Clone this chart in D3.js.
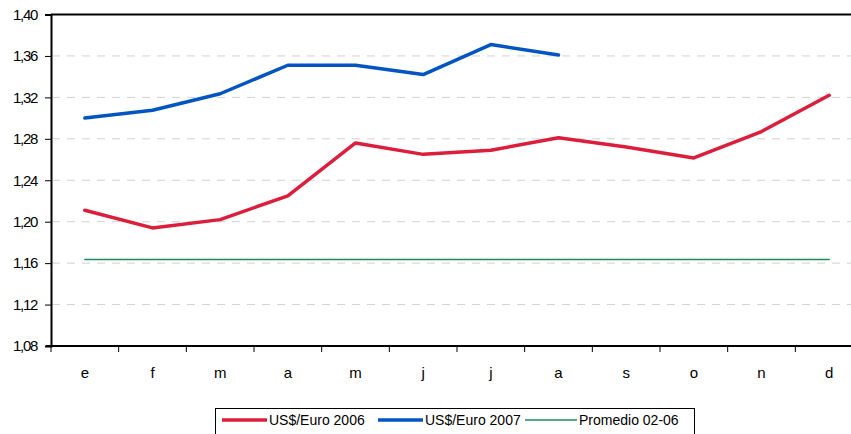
<!DOCTYPE html>
<html>
<head>
<meta charset="utf-8">
<script src="https://cdn.jsdelivr.net/npm/d3@7"></script>
<style>
  body { margin: 0; background: #fff; }
  svg { display: block; font-family: "Liberation Sans", Arial, sans-serif; }
</style>
</head>
<body>
<div id="chart"></div>
<script>
// months (Spanish initials)
const months = ["e", "f", "m", "a", "m", "j", "j", "a", "s", "o", "n", "d"];
const euro2006 = [1.211, 1.194, 1.202, 1.225, 1.276, 1.265, 1.269, 1.281, 1.272, 1.2615, 1.287, 1.322];
const euro2007 = [1.300, 1.3075, 1.3235, 1.351, 1.351, 1.342, 1.371, 1.361];
const promedio = [1.1636, 1.1636, 1.1636, 1.1636, 1.1636, 1.1636, 1.1636, 1.1636, 1.1636, 1.1636, 1.1636, 1.1636];
const yTicks = [1.08, 1.12, 1.16, 1.20, 1.24, 1.28, 1.32, 1.36, 1.40];

const series = [
  {name: "US$/Euro 2006", values: euro2006, color: "#dc1e3c", width: 3.5},
  {name: "US$/Euro 2007", values: euro2007, color: "#0055c2", width: 3.5},
  {name: "Promedio 02-06", values: promedio, color: "#1f8a5e", width: 1.5}
];

const W = 851, H = 434;
const plot = {left: 51, right: 863, top: 14.5, bottom: 346};

const svg = d3.select("#chart").append("svg")
  .attr("width", W).attr("height", H);

const x = d3.scaleBand()
  .domain(d3.range(months.length))
  .range([plot.left, plot.right]);

const y = d3.scaleLinear()
  .domain([1.08, 1.40])
  .range([plot.bottom, plot.top]);

// gridlines
svg.append("g")
  .selectAll("line")
  .data(yTicks.filter(d => d > 1.08 && d < 1.40))
  .enter().append("line")
  .attr("x1", plot.left + 1).attr("x2", plot.right)
  .attr("y1", d => y(d)).attr("y2", d => y(d))
  .attr("stroke", "#cfd3d3")
  .attr("stroke-width", 1)
  .attr("stroke-dasharray", "8,7");

// top border
svg.append("line")
  .attr("x1", plot.left).attr("x2", W)
  .attr("y1", plot.top).attr("y2", plot.top)
  .attr("stroke", "#000").attr("stroke-width", 2);

// y axis
const yAxis = svg.append("g")
  .attr("transform", "translate(" + plot.left + ",0)")
  .call(d3.axisLeft(y).tickValues(yTicks).tickSize(6).tickPadding(8)
    .tickFormat(d => d3.format(".2f")(d).replace(".", ",")));
yAxis.select(".domain").attr("stroke-width", 2);
yAxis.selectAll("text").attr("font-size", 15).attr("fill", "#000")
  .attr("letter-spacing", "-1.3px");

// x axis: ticks on band boundaries
const xAxis = svg.append("g")
  .attr("transform", "translate(0," + plot.bottom + ")");
xAxis.append("line")
  .attr("x1", plot.left - 5).attr("x2", W)
  .attr("stroke", "#000").attr("stroke-width", 2);
xAxis.selectAll(".tk")
  .data(d3.range(months.length))
  .enter().append("line")
  .attr("class", "tk")
  .attr("x1", d => x(d)).attr("x2", d => x(d))
  .attr("y1", 0).attr("y2", 6)
  .attr("stroke", "#000");
xAxis.selectAll(".lbl")
  .data(months)
  .enter().append("text")
  .attr("class", "lbl")
  .attr("x", (d, i) => x(i) + x.bandwidth() / 2)
  .attr("y", 32)
  .attr("text-anchor", "middle")
  .attr("font-size", 15)
  .text(d => d);

// lines
const line = d3.line()
  .x((d, i) => x(i) + x.bandwidth() / 2)
  .y(d => y(d));

svg.selectAll(".series")
  .data(series)
  .enter().append("path")
  .attr("class", "series")
  .attr("d", d => line(d.values))
  .attr("fill", "none")
  .attr("stroke", d => d.color)
  .attr("stroke-width", d => d.width)
  .attr("stroke-linejoin", "round")
  .attr("stroke-linecap", "round");

// legend
const lg = svg.append("g");
lg.append("rect")
  .attr("x", 215.5).attr("y", 408.5)
  .attr("width", 479).attr("height", 40)
  .attr("fill", "#fff").attr("stroke", "#000").attr("stroke-width", 1);

const legendPos = [222, 378, 525];
series.forEach((s, i) => {
  const g = lg.append("g").attr("transform", "translate(" + legendPos[i] + ",420)");
  g.append("line")
    .attr("x1", 0).attr("x2", i === 2 ? 52 : 45)
    .attr("stroke", s.color)
    .attr("stroke-width", s.width);
  g.append("text")
    .attr("x", i === 2 ? 54 : 47)
    .attr("y", 5)
    .attr("font-size", 14)
    .text(s.name);
});
</script>
</body>
</html>
